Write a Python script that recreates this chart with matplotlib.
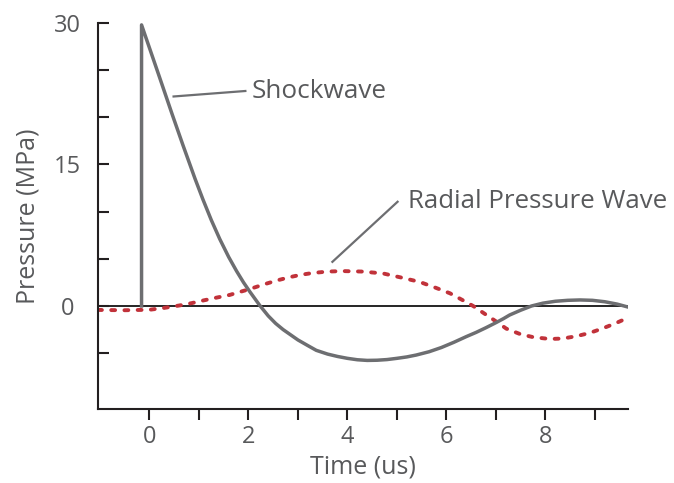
import numpy as np
import matplotlib.pyplot as plt

plt.rcParams['font.family'] = ['Open Sans', 'DejaVu Sans']

# shockwave trace (time in us, pressure in MPa)
shock_t = [-0.16, -0.16, 0.2, 0.46, 0.68, 0.92, 1.08, 1.25, 1.42, 1.6, 1.76, 1.9, 2.03,
           2.23, 2.4, 2.55, 2.7, 2.85, 3.0, 3.2, 3.37, 3.6, 3.8, 4.0, 4.2, 4.4, 4.6, 4.8,
           5.0, 5.2, 5.39, 5.65, 5.9, 6.15, 6.4, 6.6, 6.8, 7.0, 7.15, 7.28, 7.5, 7.72,
           7.95, 8.2, 8.45, 8.7, 8.95, 9.2, 9.45, 9.66]
shock_p = [0.0, 29.8, 24.3, 20.3, 17.0, 13.5, 11.3, 9.1, 7.1, 5.2, 3.7, 2.5, 1.5,
           0.05, -1.05, -1.85, -2.5, -3.05, -3.6, -4.2, -4.7, -5.1, -5.35, -5.55, -5.7, -5.77, -5.75, -5.68,
           -5.55, -5.4, -5.2, -4.85, -4.4, -3.85, -3.25, -2.8, -2.3, -1.77, -1.35, -0.95, -0.45, 0.0,
           0.3, 0.5, 0.6, 0.64, 0.6, 0.45, 0.2, -0.1]

# radial pressure wave trace
radial_t = [-1.04, -0.5, 0.0, 0.3, 0.6, 0.85, 1.1, 1.35, 1.62, 1.82, 2.03, 2.3, 2.57, 2.83,
            3.05, 3.3, 3.6, 3.91, 4.3, 4.72, 5.1, 5.46, 5.75, 6.07, 6.3, 6.54, 6.78, 7.01,
            7.21, 7.5, 7.75, 8.09, 8.35, 8.63, 8.9, 9.16, 9.42, 9.67]
radial_p = [-0.42, -0.45, -0.4, -0.2, 0.05, 0.3, 0.6, 0.88, 1.17, 1.48, 1.8, 2.27, 2.7, 3.05,
            3.3, 3.5, 3.65, 3.7, 3.65, 3.45, 3.0, 2.55, 2.0, 1.35, 0.7, 0.0, -0.85, -1.66,
            -2.4, -3.0, -3.3, -3.5, -3.45, -3.2, -2.85, -2.37, -1.83, -1.24]

y_major = [0, 15, 30]
y_minor = [-5, 5, 10, 20, 25]
x_major = [0, 2, 4, 6, 8]
x_minor = [1, 3, 5, 7, 9]

gray = '#6d6e71'
red = '#c1323a'
txt = '#58595b'
dark = '#231f20'

fig = plt.figure(figsize=(6.74, 4.83), dpi=100)
ax = fig.add_axes([0.1454, 0.1538, 0.7864, 0.7986])

ax.axhline(0, color='black', lw=1.2, zorder=1)
ax.plot(radial_t, radial_p, color=red, lw=2.8, linestyle=(0, (1.0, 2.4)),
        dash_capstyle='round', zorder=2)
ax.plot(shock_t, shock_p, color=gray, lw=2.5, solid_joinstyle='round', zorder=3)

# leader lines + labels
ax.plot([0.465, 1.96], [22.2, 22.8], color=gray, lw=1.6, solid_capstyle='butt')
ax.text(2.07, 22.7, 'Shockwave', fontsize=18.8, color=txt, va='center', ha='left')
ax.plot([3.68, 5.03], [4.6, 11.13], color=gray, lw=1.6, solid_capstyle='butt')
ax.text(5.22, 11.06, 'Radial Pressure Wave', fontsize=18.6, color=txt, va='center', ha='left')

ax.set_xlim(-1.04, 9.67)
ax.set_ylim(-10.89, 30)

for s in ['top', 'right']:
    ax.spines[s].set_visible(False)
for s in ['left', 'bottom']:
    ax.spines[s].set_color(dark)
    ax.spines[s].set_linewidth(1.5)

ax.set_yticks(y_major)
ax.set_yticks(y_minor, minor=True)
ax.set_xticks(x_major)
ax.set_xticks(x_minor, minor=True)
ax.tick_params(axis='y', which='both', direction='in', length=8, width=1.5,
               color=dark, labelsize=17, labelcolor=txt, pad=22)
ax.tick_params(axis='x', which='both', direction='out', length=8, width=1.5,
               color=dark, labelsize=17, labelcolor=txt, pad=4)
for lbl in ax.get_yticklabels():
    lbl.set_ha('center')

ax.set_xlabel('Time (us)', fontsize=18, color=txt, labelpad=4)
ax.set_ylabel('Pressure (MPa)', fontsize=18, color=txt)
ax.yaxis.set_label_coords(-0.108, 0.5)

fig.savefig('out.png', dpi=100)
